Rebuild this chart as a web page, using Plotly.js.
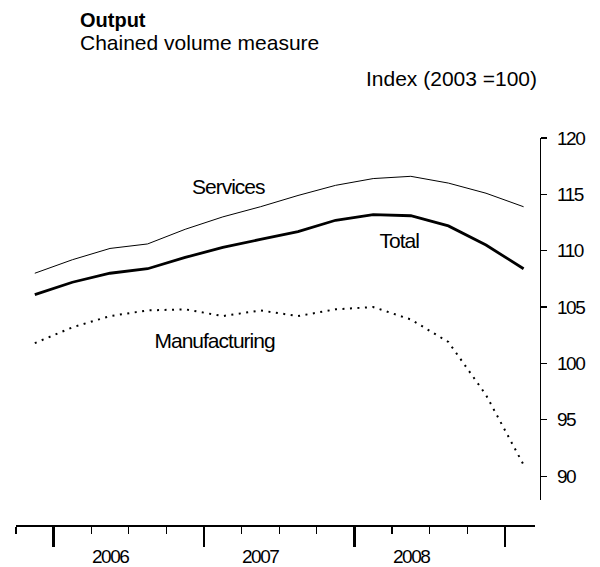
<!DOCTYPE html>
<html>
<head>
<meta charset="utf-8">
<script src="https://cdn.plot.ly/plotly-3.0.1.min.js"></script>
<style>
  html, body { margin: 0; padding: 0; background: #fff; }
  #chart { width: 600px; height: 567px; }
  .ytick text { letter-spacing: -1.5px; }
</style>
</head>
<body>
<div id="chart"></div>
<script>
// ---- data ----
const quarters = ['2005 Q4',
  '2006 Q1','2006 Q2','2006 Q3','2006 Q4',
  '2007 Q1','2007 Q2','2007 Q3','2007 Q4',
  '2008 Q1','2008 Q2','2008 Q3','2008 Q4',
  '2009 Q1'];
const services      = [108.0, 109.2, 110.2, 110.6, 111.9, 113.0, 113.9, 114.9, 115.8, 116.4, 116.6, 116.0, 115.1, 113.9];
const total         = [106.1, 107.2, 108.0, 108.4, 109.4, 110.3, 111.0, 111.7, 112.7, 113.2, 113.1, 112.2, 110.5, 108.4];
const manufacturing = [101.8, 103.2, 104.2, 104.7, 104.8, 104.2, 104.7, 104.2, 104.8, 105.0, 103.9, 101.9, 97.2, 91.0];
const yearLabels = ['2006', '2007', '2008'];
const yTicks = [90, 95, 100, 105, 110, 115, 120];
const titleText = 'Output';
const subtitleText = 'Chained volume measure';
const unitText = 'Index (2003 =100)';

// ---- layout helpers ----
const W = 600, H = 567;
const px = v => v / W;
const py = v => 1 - v / H;
const xi = quarters.map((q, i) => i);
const FONT = 'Liberation Sans, Arial, sans-serif';

const yearStarts = ['2006','2007','2008','2009'].map(y => quarters.indexOf(y + ' Q1') - 0.5);
const quarterBounds = xi.map(i => i - 0.5).filter(b => !yearStarts.includes(b));
const yearLabelPos = yearLabels.map(y => quarters.indexOf(y + ' Q2'));

const lineTrace = (name, y, line) => ({
  type: 'scatter', mode: 'lines', name, x: xi, y, line,
  hoverinfo: 'skip', showlegend: false
});

const data = [
  lineTrace('Services', services, {color: '#000', width: 1}),
  lineTrace('Total', total, {color: '#000', width: 2.8}),
  lineTrace('Manufacturing', manufacturing, {color: '#000', width: 2, dash: '2px,5.5px'})
];

const ann = (text, x, y, xref, yref, size, extra) => Object.assign({
  text, x, y, xref, yref, showarrow: false,
  font: {family: FONT, size, color: '#000'}
}, extra || {});

const annotations = [
  ann('<b>' + titleText + '</b>', px(78), py(20), 'paper', 'paper', 20, {xanchor: 'left', yanchor: 'middle'}),
  ann(subtitleText, px(78), py(42), 'paper', 'paper', 21, {xanchor: 'left', yanchor: 'middle'}),
  ann(unitText, px(539), py(78), 'paper', 'paper', 21, {xanchor: 'right', yanchor: 'middle'}),
  ann('Services', 5.16, 115.7, 'x', 'y', 21, {xanchor: 'center', yanchor: 'middle'}),
  ann('Total', 9.69, 110.9, 'x', 'y', 21, {xanchor: 'center', yanchor: 'middle'}),
  ann('Manufacturing', 4.79, 102.0, 'x', 'y', 21, {xanchor: 'center', yanchor: 'middle'})
].concat(yearLabels.map((y, k) =>
  ann(y, yearLabelPos[k], py(556), 'x', 'paper', 19, {xanchor: 'center', yanchor: 'middle'})));

const layout = {
  width: W, height: H,
  margin: {l: 0, r: 0, t: 0, b: 0, pad: 0},
  paper_bgcolor: '#fff', plot_bgcolor: '#fff',
  showlegend: false,
  xaxis: {
    domain: [px(16), px(535)],
    range: [-0.5, -0.5 + (535 - 16) / 37.6],
    anchor: 'free', position: py(525),
    showgrid: false, zeroline: false,
    showline: true, linecolor: '#000', linewidth: 1.5,
    tickmode: 'array', tickvals: yearStarts,
    ticks: 'outside', ticklen: 20, tickwidth: 2.5, tickcolor: '#000',
    showticklabels: false,
    minor: {tickmode: 'array', tickvals: quarterBounds, ticks: 'outside', ticklen: 7, tickwidth: 1.2, tickcolor: '#000', showgrid: false},
    automargin: false, fixedrange: true
  },
  yaxis: {
    domain: [py(500), py(138)],
    range: [120 - (500 - 138) / 11.27, 120],
    anchor: 'free', position: px(540), side: 'right',
    showgrid: false, zeroline: false,
    showline: true, linecolor: '#000', linewidth: 1.2,
    tickmode: 'array', tickvals: yTicks,
    ticks: 'outside', ticklen: 6, tickwidth: 1.2, tickcolor: '#000',
    tickfont: {family: FONT, size: 19, color: '#000'},
    ticklabelstandoff: 6,
    automargin: false, fixedrange: true
  },
  annotations
};

const tight = {Services: '-1px', Total: '-1px', Manufacturing: '-1px', '2006': '-1.5px', '2007': '-1.5px', '2008': '-1.5px'};
Plotly.newPlot('chart', data, layout, {staticPlot: true, displayModeBar: false}).then(gd => {
  gd.querySelectorAll('.annotation-text').forEach(t => {
    const s = tight[t.textContent];
    if (s) t.style.letterSpacing = s;
  });
});
</script>
</body>
</html>
